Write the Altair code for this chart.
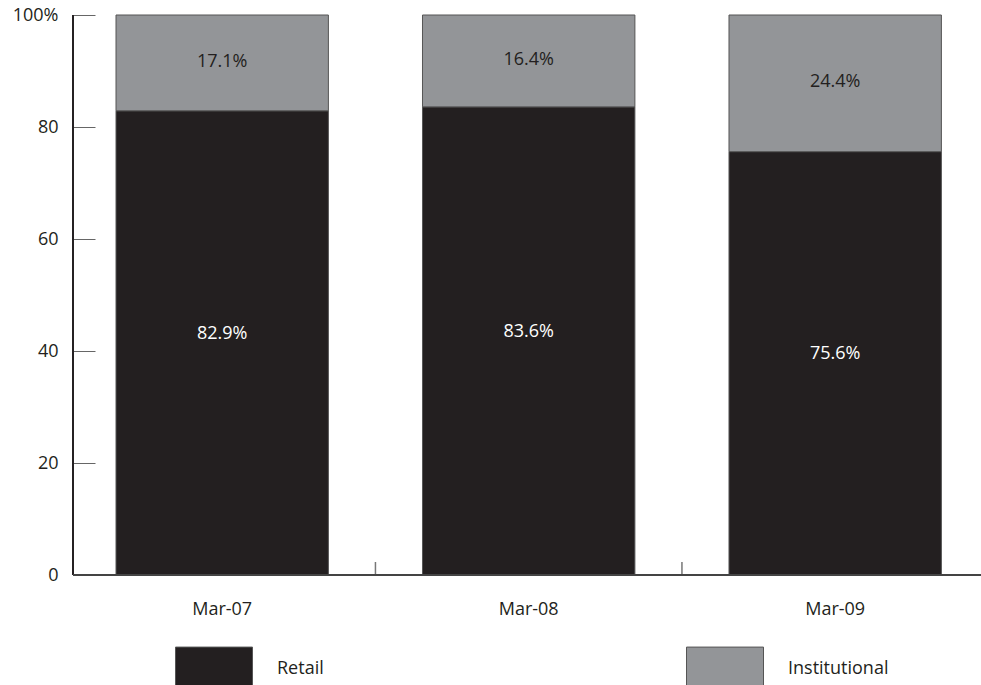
import altair as alt
import pandas as pd

dates = ["Mar-07", "Mar-08", "Mar-09"]
retail = [82.9, 83.6, 75.6]
institutional = [17.1, 16.4, 24.4]
segments = ["Retail", "Institutional"]
colors = ["#231f20", "#939598"]
y_ticks = [0, 20, 40, 60, 80, 100]

rows = []
for i, d in enumerate(dates):
    rows.append({"date": d, "segment": "Retail", "value": retail[i], "order": 0})
    rows.append({"date": d, "segment": "Institutional", "value": institutional[i], "order": 1})
df = pd.DataFrame(rows)
sep_df = pd.DataFrame({"date": dates[1:]})

W, H = 908, 560
X_RANGE = 911.4
FONT = "Open Sans"
P_IN = 0.307
P_OUT = 0.1403
STEP = X_RANGE / (len(dates) - P_IN + 2 * P_OUT)
GAP_HALF = STEP * P_IN / 2

x_scale = alt.Scale(domain=dates, range=[0, X_RANGE], paddingInner=P_IN, paddingOuter=P_OUT)
x_axis = alt.Axis(domain=False, ticks=False, tickSize=0, labelAngle=0,
                  labelPadding=25, labelFontSize=18, labelFont=FONT,
                  labelColor="#231f20", grid=False)
y_scale = alt.Scale(domain=[0, 100], nice=False)
y_axis = alt.Axis(values=y_ticks, domain=False, offset=-22, tickSize=22,
                  tickColor="#666666", labelPadding=15, grid=False,
                  labelFontSize=18, labelFont=FONT, labelColor="#231f20",
                  labelExpr="datum.value == 100 ? '100%' : datum.label")

base = alt.Chart(df)

bars = base.mark_bar(stroke="#555555", strokeWidth=1).encode(
    x=alt.X("date:N", sort=dates, title=None, scale=x_scale, axis=x_axis),
    y=alt.Y("value:Q", stack="zero", scale=y_scale, title=None, axis=y_axis),
    color=alt.Color("segment:N", sort=segments,
                    scale=alt.Scale(domain=segments, range=colors),
                    legend=alt.Legend(title=None, orient="none", direction="horizontal",
                                      legendX=102, legendY=615,
                                      symbolType="M-1,-0.57H1V0.57H-1Z",
                                      symbolSize=5929, symbolStrokeColor="#555555",
                                      symbolStrokeWidth=1, symbolOpacity=1,
                                      labelFontSize=18, labelFont=FONT,
                                      labelColor="#231f20", labelOffset=24,
                                      columnPadding=360, labelLimit=300)),
    order=alt.Order("order:Q"),
)

stacked = base.transform_stack(
    stack="value", groupby=["date"], as_=["v0", "v1"],
    sort=[alt.SortField("order", order="ascending")]
).transform_calculate(
    mid="(datum.v0 + datum.v1) / 2",
    lbl="format(datum.value, '.1f') + '%'",
)

label_retail = stacked.transform_filter(alt.datum.segment == "Retail").mark_text(
    fontSize=18, font=FONT, color="#ffffff", baseline="middle", dy=-9
).encode(
    x=alt.X("date:N", sort=dates, scale=x_scale, title=None, axis=x_axis),
    y=alt.Y("mid:Q", scale=y_scale, title=None, axis=y_axis),
    text="lbl:N",
)

label_inst = stacked.transform_filter(alt.datum.segment == "Institutional").mark_text(
    fontSize=18, font=FONT, color="#231f20", baseline="middle", dy=-1
).encode(
    x=alt.X("date:N", sort=dates, scale=x_scale, title=None, axis=x_axis),
    y=alt.Y("mid:Q", scale=y_scale, title=None, axis=y_axis),
    text="lbl:N",
)

# category separator ticks, centred in the gap before each band
sep_ticks = alt.Chart(sep_df).mark_rule(color="#777777", strokeWidth=1.5).encode(
    x=alt.X("date:N", sort=dates, scale=x_scale, bandPosition=0, title=None, axis=x_axis),
    xOffset=alt.value(-GAP_HALF),
    y=alt.value(H - 13), y2=alt.value(H),
)

y_domain = alt.Chart(df).mark_rule(color="#231f20", strokeWidth=1).encode(
    x=alt.value(0), y=alt.value(0), y2=alt.value(H))
x_domain = alt.Chart(df).mark_rule(color="#444444", strokeWidth=1.5).encode(
    x=alt.value(0), x2=alt.value(W), y=alt.value(H))

chart = alt.layer(bars, label_retail, label_inst, sep_ticks, y_domain, x_domain).properties(
    width=W, height=H,
    background="white",
    autosize=alt.AutoSizeParams(type="none"),
    padding={"left": 73, "top": 15, "right": 0, "bottom": 110},
).configure_view(strokeWidth=0)

chart.save("out.html", embed_options={"renderer": "svg", "actions": False})
